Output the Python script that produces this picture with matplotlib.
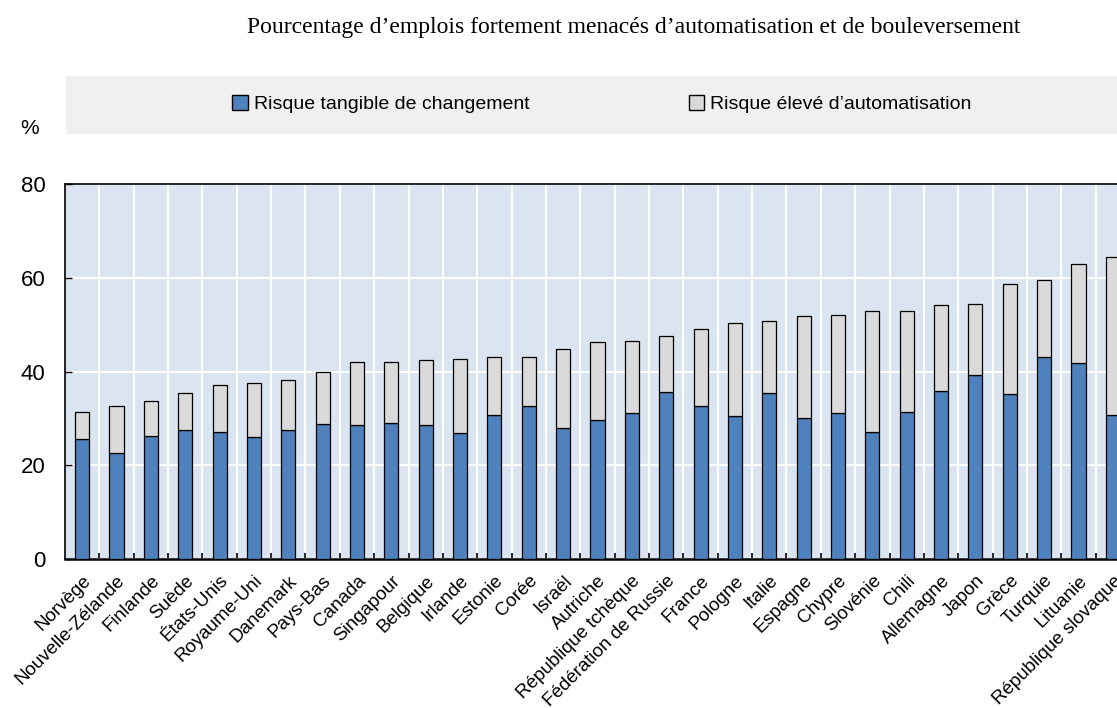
import matplotlib

matplotlib.use("Agg")
import matplotlib.pyplot as plt
import numpy as np
from matplotlib.patches import Patch, Rectangle

countries = [
    "Norvège", "Nouvelle-Zélande", "Finlande", "Suède", "États-Unis",
    "Royaume-Uni", "Danemark", "Pays-Bas", "Canada", "Singapour",
    "Belgique", "Irlande", "Estonie", "Corée", "Israël", "Autriche",
    "République tchèque", "Fédération de Russie", "France", "Pologne",
    "Italie", "Espagne", "Chypre", "Slovénie", "Chili", "Allemagne",
    "Japon", "Grèce", "Turquie", "Lituanie", "République slovaque",
]
# blue segment: significant risk of change
risk_change = [
    25.7, 22.7, 26.3, 27.5, 27.0, 26.0, 27.5, 28.7, 28.5, 29.0,
    28.5, 26.8, 30.8, 32.7, 27.9, 29.7, 31.1, 35.6, 32.7, 30.5,
    35.4, 30.1, 31.2, 27.2, 31.4, 35.8, 39.2, 35.2, 43.1, 41.9, 30.7,
]
# bar totals (blue + grey)
total = [
    31.4, 32.7, 33.7, 35.4, 37.1, 37.6, 38.2, 40.0, 42.0, 42.1,
    42.5, 42.7, 43.0, 43.2, 44.8, 46.3, 46.6, 47.6, 49.1, 50.3,
    50.8, 51.9, 52.1, 52.9, 52.9, 54.2, 54.3, 58.7, 59.5, 63.0, 64.5,
]
risk_auto = [t - c for t, c in zip(total, risk_change)]

series_names = ["Risque tangible de changement", "Risque élevé d’automatisation"]
title = "Pourcentage d’emplois fortement menacés d’automatisation et de bouleversement"

BLUE = "#4f81bd"
GREY = "#dadada"
BG = "#dbe5f1"

plt.rcParams["font.family"] = ["Liberation Sans", "DejaVu Sans"]

fig = plt.figure(figsize=(11.17, 7.08), dpi=100)
ax = fig.add_axes([65 / 1117, 1 - 559 / 708, 1065 / 1117, 375 / 708])

x = np.arange(len(countries))
ax.bar(x, risk_change, width=0.41, color=BLUE, edgecolor="black", linewidth=0.9, zorder=3)
ax.bar(x, risk_auto, bottom=risk_change, width=0.41, color=GREY, edgecolor="black",
       linewidth=0.9, zorder=3)

ax.set_facecolor(BG)
ax.set_xlim(-0.5, len(countries) - 0.5)
ax.set_ylim(0, 80)
ax.set_yticks(range(0, 81, 20))
ax.tick_params(axis="y", direction="in", length=5, width=1, labelsize=16, pad=14)

ax.set_xticks(x)
ax.set_xticklabels(countries, rotation=45, ha="right", rotation_mode="anchor", fontsize=13.5)
ax.tick_params(axis="x", which="major", length=0, pad=9.5)
ax.set_xticks(x[:-1] + 0.5, minor=True)
ax.tick_params(axis="x", which="minor", direction="in", length=4, width=1.2)

ax.grid(axis="y", color="white", linewidth=1.5, zorder=1)
ax.grid(axis="x", which="minor", color="white", linewidth=1.5, zorder=1)
ax.set_axisbelow(True)
for side in ["left", "top", "bottom"]:
    ax.spines[side].set_color("black")
    ax.spines[side].set_linewidth(1.2)
ax.spines["bottom"].set_linewidth(1.8)
ax.spines["right"].set_visible(False)

# legend band
fig.patches.append(Rectangle((66 / 1117, 1 - 134 / 708), 1 - 66 / 1117, 58 / 708,
                             transform=fig.transFigure, facecolor="#f0f0f0",
                             edgecolor="none", zorder=0))
handles = [Patch(facecolor=BLUE, edgecolor="black"), Patch(facecolor=GREY, edgecolor="black")]
fig.legend(handles, series_names, loc="center", bbox_to_anchor=(602 / 1117, 1 - 104 / 708),
           ncol=2, frameon=False, fontsize=14, handlelength=0.8, handleheight=0.8,
           handletextpad=0.3, columnspacing=8.2)

fig.text(30 / 1117, 1 - 128 / 708, "%", fontsize=15, ha="center", va="center")
fig.text(634 / 1117, 1 - 27 / 708, title, fontsize=17, ha="center", va="center",
         family="Liberation Serif")

fig.savefig("out.png", dpi=100)
